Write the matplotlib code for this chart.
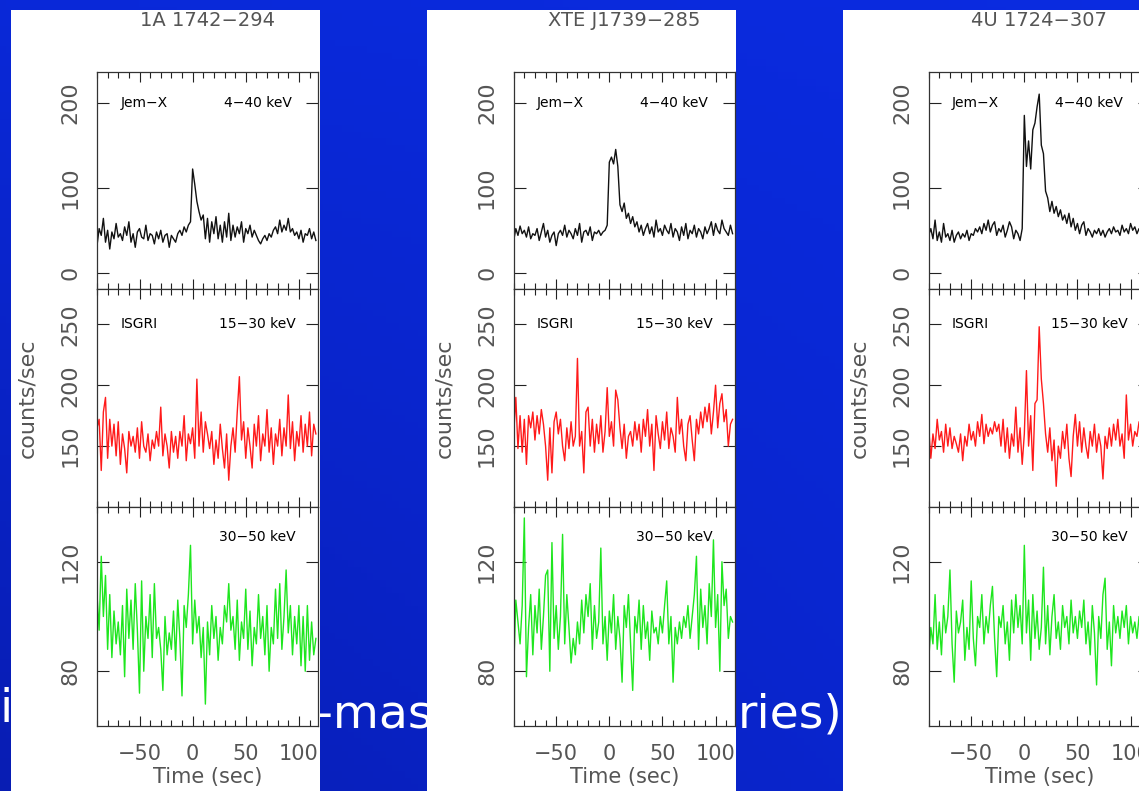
import numpy as np
import matplotlib
matplotlib.use("Agg")
import matplotlib.pyplot as plt
from matplotlib.patches import Rectangle
from matplotlib.ticker import MultipleLocator

W, H = 1139, 791

# === Light curve data (2 s bins starting at -90 s) ===
t_start, t_step, n_bins = -90, 2, 104
time = t_start + t_step * np.arange(n_bins)

sources = ["1A 1742\u2212294", "XTE J1739\u2212285", "4U 1724\u2212307"]

# Jem-X 4-40 keV
jemx_1742 = [32, 52, 44, 64, 36, 50, 28, 48, 40, 58, 42, 46, 38, 54, 44, 60, 36, 46, 30, 48,
             52, 42, 40, 56, 38, 46, 44, 34, 48, 40, 50, 36, 44, 46, 30, 44, 40, 36, 46, 50,
             44, 54, 48, 56, 60,
             122, 104, 84, 72, 62, 68, 40, 64, 36, 60, 46, 66, 40, 56, 36, 60, 42, 70, 38, 56,
             42, 54, 46, 60, 36, 52, 46, 56, 42, 50, 44, 38, 34, 40, 44, 38, 46, 42, 50, 54,
             46, 62, 48, 56, 50, 64, 48, 52, 44, 48, 40, 50, 36, 46, 44, 52, 40, 48, 38]
jemx_1739 = [38, 52, 44, 55, 46, 50, 42, 54, 40, 46, 44, 52, 38, 48, 58, 42, 50, 36, 44, 48,
             32, 46, 50, 44, 56, 42, 50, 46, 40, 52, 44, 58, 36, 48, 50, 44, 54, 38, 48, 46,
             50, 44, 48, 50, 56,
             130, 136, 128, 145, 125, 80, 72, 82, 64, 70, 58, 66, 54, 60, 48, 56, 44, 52, 58, 46,
             54, 42, 62, 48, 52, 44, 56, 50, 46, 58, 42, 52, 48, 38, 54, 44, 58, 40, 50, 46,
             56, 42, 52, 48, 40, 54, 46, 52, 60, 44, 58, 50, 46, 62, 52, 48, 44, 56, 46]
jemx_1724 = [44, 52, 40, 62, 38, 48, 36, 58, 42, 46, 38, 50, 36, 44, 48, 40, 46, 42, 50, 38,
             46, 44, 52, 48, 54, 46, 58, 50, 62, 48, 56, 60, 44, 52, 48, 56, 42, 50, 60, 54,
             40, 50, 46, 38, 52,
             185, 125, 155, 122, 168, 176, 195, 210, 150, 140, 96, 88, 72, 84, 70, 78, 66, 74, 62, 68,
             58, 70, 54, 64, 50, 58, 46, 56, 60, 44, 52, 48, 42, 50, 46, 52, 44, 50, 42, 48,
             52, 46, 54, 48, 50, 44, 56, 48, 52, 46, 58, 50, 54, 46, 52, 48, 56, 44, 50]

# ISGRI 15-30 keV
isgri_lo_1742 = [165, 172, 130, 178, 190, 140, 172, 150, 168, 142, 170, 135, 160, 148, 128, 162, 150, 158, 145, 165,
                 140, 170, 150, 145, 160, 138, 155, 148, 162, 150, 182, 142, 160, 150, 132, 162, 145, 158, 140, 162,
                 150, 175, 138, 160, 152, 165, 140, 205, 150, 178, 145, 170, 160, 148, 162, 135, 155, 140, 168, 148,
                 132, 160, 122, 150, 165, 145, 178, 207, 155, 170, 140, 165, 150, 132, 168, 150, 175, 138, 160, 150,
                 180, 145, 165, 135, 160, 150, 172, 142, 165, 150, 192, 148, 170, 138, 162, 150, 175, 145, 168, 150,
                 178, 142, 168, 160]
isgri_lo_1739 = [160, 190, 148, 175, 145, 172, 135, 175, 165, 178, 155, 175, 160, 180, 168, 150, 122, 165, 128, 170,
                 178, 160, 172, 150, 138, 165, 148, 170, 150, 158, 222, 150, 162, 128, 178, 182, 150, 172, 145, 168,
                 152, 175, 145, 162, 198, 158, 170, 150, 196, 188, 165, 148, 168, 140, 158, 162, 150, 170, 155, 168,
                 145, 172, 158, 180, 150, 168, 130, 175, 160, 148, 170, 155, 178, 148, 165, 158, 145, 190, 160, 172,
                 150, 138, 168, 175, 155, 138, 172, 160, 178, 165, 182, 170, 185, 160, 178, 200, 165, 185, 193, 170,
                 180, 150, 168, 172]
isgri_lo_1724 = [165, 140, 160, 148, 172, 155, 162, 145, 168, 150, 165, 148, 158, 152, 145, 160, 138, 158, 150, 168,
                 155, 162, 150, 170, 158, 176, 152, 168, 158, 165, 160, 170, 162, 168, 150, 172, 145, 165, 140, 160,
                 150, 182, 145, 165, 135, 160, 212, 150, 175, 130, 185, 188, 248, 205, 185, 160, 145, 165, 138, 155,
                 117, 150, 140, 162, 148, 168, 140, 125, 158, 176, 150, 170, 145, 165, 150, 140, 162, 150, 168, 145,
                 160, 150, 123, 158, 148, 165, 150, 168, 155, 172, 150, 160, 140, 192, 155, 168, 150, 162, 158, 170,
                 160, 165, 155, 160]

# ISGRI 30-50 keV
isgri_hi_1742 = [108, 95, 122, 100, 115, 88, 108, 85, 102, 90, 98, 86, 104, 78, 110, 92, 106, 88, 112, 95,
                 72, 113, 80, 100, 92, 108, 85, 112, 92, 96, 88, 73, 100, 86, 94, 88, 102, 84, 106, 92,
                 71, 104, 96, 108, 126, 90, 106, 94, 100, 85, 96, 68, 98, 86, 104, 92, 100, 84, 96, 90,
                 104, 98, 112, 95, 100, 88, 106, 84, 98, 92, 110, 88, 102, 82, 96, 90, 108, 92, 100, 86,
                 104, 80, 96, 90, 110, 92, 112, 88, 100, 117, 94, 104, 86, 100, 90, 104, 82, 100, 80, 104,
                 84, 98, 86, 92]
isgri_hi_1739 = [80, 106, 98, 90, 104, 136, 78, 96, 108, 86, 104, 94, 110, 88, 100, 115, 117, 80, 127, 92,
                 104, 88, 100, 130, 90, 108, 96, 83, 92, 86, 98, 90, 106, 94, 108, 100, 112, 88, 104, 92,
                 98, 125, 90, 100, 84, 102, 94, 108, 88, 100, 92, 76, 104, 96, 108, 90, 73, 100, 94, 106,
                 88, 104, 92, 98, 84, 102, 94, 96, 90, 100, 94, 104, 113, 90, 100, 76, 96, 90, 98, 92,
                 100, 96, 104, 92, 100, 108, 122, 88, 110, 96, 104, 90, 112, 100, 128, 96, 108, 80, 120, 104,
                 110, 92, 100, 98]
isgri_hi_1724 = [84, 96, 90, 108, 88, 98, 86, 104, 94, 100, 117, 90, 76, 102, 94, 98, 106, 84, 96, 88,
                 113, 92, 82, 100, 96, 108, 90, 100, 94, 104, 111, 92, 78, 100, 96, 104, 90, 98, 84, 106,
                 94, 108, 96, 104, 90, 126, 94, 106, 84, 108, 92, 102, 88, 96, 118, 90, 104, 86, 100, 108,
                 92, 98, 88, 104, 96, 100, 90, 106, 94, 100, 92, 102, 96, 106, 90, 98, 86, 104, 94, 75,
                 100, 92, 108, 114, 88, 98, 82, 104, 94, 100, 92, 102, 96, 104, 90, 100, 94, 98, 92, 100,
                 96, 102, 94, 98]

rows = [
    ([jemx_1742, jemx_1739, jemx_1724], "#111111", (-19, 236), [0, 100, 200],
     "Jem\u2212X", "4\u221240 keV", 200),
    ([isgri_lo_1742, isgri_lo_1739, isgri_lo_1724], "#ff1a1a", (100, 279), [150, 200, 250],
     "ISGRI", "15\u221230 keV", 250),
    ([isgri_hi_1742, isgri_hi_1739, isgri_hi_1724], "#1ee61e", (60, 140), [80, 120],
     None, "30\u221250 keV", 129),
]

# === Figure and slide background ===
fig = plt.figure(figsize=(W / 100, H / 100), dpi=100)
bg = fig.add_axes([0, 0, 1, 1], zorder=-10)
bg.set_xlim(0, W)
bg.set_ylim(H, 0)
bg.axis("off")

yy, xx = np.mgrid[0:1:120j, 0:1:180j]
f = np.clip(0.45 * (1 - xx) * yy + 0.2 * yy + 0.15 * (1 - xx), 0, 1)
bright = np.array([0.04, 0.17, 0.88])
dark = np.array([0.03, 0.10, 0.66])
grad = bright[None, None, :] * (1 - f[..., None]) + dark[None, None, :] * f[..., None]
bg.imshow(grad, extent=(0, W, H, 0), aspect="auto", zorder=0)

slide_kw = dict(color="white", fontsize=34, zorder=1, va="baseline")
bg.text(0, 722, "i", ha="left", **slide_kw)
bg.text(316, 728, "-mass X-ray", ha="left", **slide_kw)
bg.text(842, 728, "ries)", ha="right", **slide_kw)

panel_x = [(11, 320), (427, 736), (843, 1160)]
for x0, x1 in panel_x:
    bg.add_patch(Rectangle((x0, 10), x1 - x0, H - 10, facecolor="white",
                           edgecolor="none", zorder=2))

# === Light curve axes ===
offsets = [0, 416.7, 831.7]
ax_left, ax_right = 97, 318
row_y = [(72, 289), (289, 507), (507, 726)]
gray = "#555555"

def px_rect(x0, y0, x1, y1):
    return [x0 / W, 1 - y1 / H, (x1 - x0) / W, (y1 - y0) / H]

for col, dx in enumerate(offsets):
    for row, (series, color, ylim, yticks, lab_l, lab_r, lab_y) in enumerate(rows):
        y0, y1 = row_y[row]
        ax = fig.add_axes(px_rect(ax_left + dx, y0, ax_right + dx, y1))
        ax.set_facecolor("white")
        ax.plot(time, series[col], color=color, lw=1.0)
        ax.set_xlim(-90, 118)
        ax.set_ylim(*ylim)
        ax.set_yticks(yticks)
        ax.xaxis.set_major_locator(MultipleLocator(50))
        ax.xaxis.set_minor_locator(MultipleLocator(10))
        for sp in ax.spines.values():
            sp.set_color("#333333")
            sp.set_linewidth(0.9)
        ax.tick_params(which="both", direction="in", top=True, right=True,
                       color="#222222", width=0.8)
        ax.tick_params(axis="x", which="major", length=7.2)
        ax.tick_params(axis="x", which="minor", length=4.3)
        ax.tick_params(axis="y", which="major", length=8.6, pad=12,
                       labelsize=16, labelcolor=gray)
        for lab in ax.get_yticklabels():
            lab.set_rotation(90)
            lab.set_va("center")
        if row == 2:
            ax.tick_params(axis="x", pad=13, labelsize=15, labelcolor=gray)
            ax.text(0.5, -0.233, "Time (sec)", transform=ax.transAxes,
                    ha="center", va="center", fontsize=15, color=gray)
        else:
            ax.tick_params(axis="x", labelbottom=False)
        if row == 0:
            ax.text(0.5, 1 + 51 / 217, sources[col], transform=ax.transAxes,
                    ha="center", va="center", fontsize=14, color=gray)
        if row == 1:
            ax.text(-0.314, 0.5, "counts/sec", transform=ax.transAxes, rotation=90,
                    ha="center", va="center", fontsize=16, color=gray)
        if lab_l:
            ax.text(-68, lab_y, lab_l, ha="left", va="center", fontsize=10, color="black")
        ax.text(93 if row == 0 else 97, lab_y, lab_r, ha="right", va="center",
                fontsize=10, color="black")

fig.savefig("out.png", dpi=100)
